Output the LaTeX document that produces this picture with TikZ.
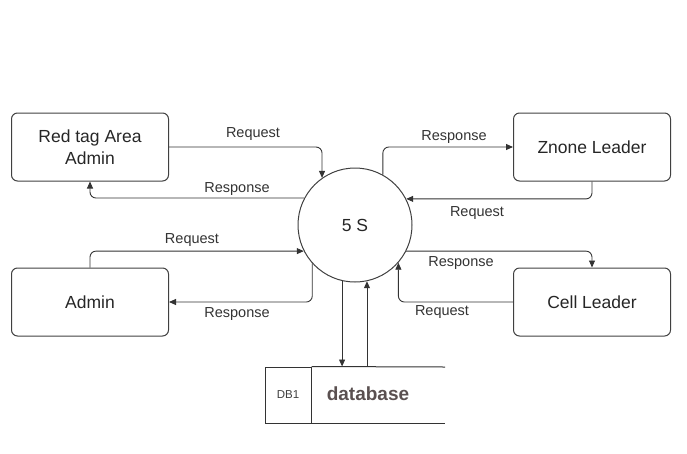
\documentclass[tikz,border=0pt]{standalone}
\usepackage{fontspec}
\setmainfont{Liberation Sans}
\usetikzlibrary{arrows.meta, positioning, calc}
\definecolor{dbtext}{RGB}{90,80,80}

\begin{document}
\begin{tikzpicture}[x=1pt,y=-1pt,
			entity/.style={draw=black!75, line width=1pt, rounded corners=6pt, minimum width=157pt, minimum height=68pt, align=center, text=black!85, font=\fontsize{17.5}{22}\selectfont},
			flow/.style={draw=black!80, line width=0.9pt, rounded corners=6pt, -{Triangle[length=7pt,width=6pt]}},
			lbl/.style={text=black!80, font=\fontsize{14.5}{15}\selectfont}
		]
		\useasboundingbox (0,0) rectangle (687,453);
		\node[entity] (redtag) at (90,147) {Red tag Area\\Admin};
		\node[entity] (admin) at (90,302) {Admin};
		\node[entity] (znone) at (592,147) {Znone Leader};
		\node[entity] (cell) at (592,302) {Cell Leader};
		\node[draw=black!75, line width=1pt, circle, minimum size=114pt, inner sep=0pt, text=black!85, font=\fontsize{17.5}{22}\selectfont] (fives) at (355,225) {5 S};
		\node[draw=black!80, line width=1pt, minimum width=46pt, minimum height=56pt, inner sep=0pt, text=black!75, font=\fontsize{11.5}{13}\selectfont] (db1) at (288,395) {DB1};
		\coordinate (dbend) at (445,367);
		\draw[black!80, line width=1pt] (db1.north east) -- (dbend);
		\draw[black!80, line width=1pt] (db1.south east) -- (dbend |- db1.south);
		\node[text=dbtext, font=\fontsize{19}{21}\selectfont\bfseries] (dbname) at (368,394) {database};
		\draw[flow] (redtag.east) -| (fives.125);
		\draw[flow] (fives.152) -| (redtag.south);
		\draw[flow] (admin.north) |- (fives.207);
		\draw[flow] (fives.222) |- (admin.east);
		\draw[flow] (fives.61) |- (znone.west);
		\draw[flow] (znone.south) |- (fives.27);
		\draw[flow] (fives.-27) -| (cell.north);
		\draw[flow] (cell.west) -| (fives.-41);
		\draw[flow] (fives.257) -- (fives.257 |- db1.north);
		\draw[flow] (fives.282 |- db1.north) -- (fives.282);
		\node[lbl] (req1) at (253,134) {Request};
		\node[lbl] (resp1) at (237,189) {Response};
		\node[lbl] (req2) at (192,240) {Request};
		\node[lbl] (resp2) at (237,314) {Response};
		\node[lbl] (resp3) at (454,137) {Response};
		\node[lbl] (req3) at (477,213) {Request};
		\node[lbl] (resp4) at (461,263) {Response};
		\node[lbl] (req4) at (442,312) {Request};
	\end{tikzpicture}
\end{document}
